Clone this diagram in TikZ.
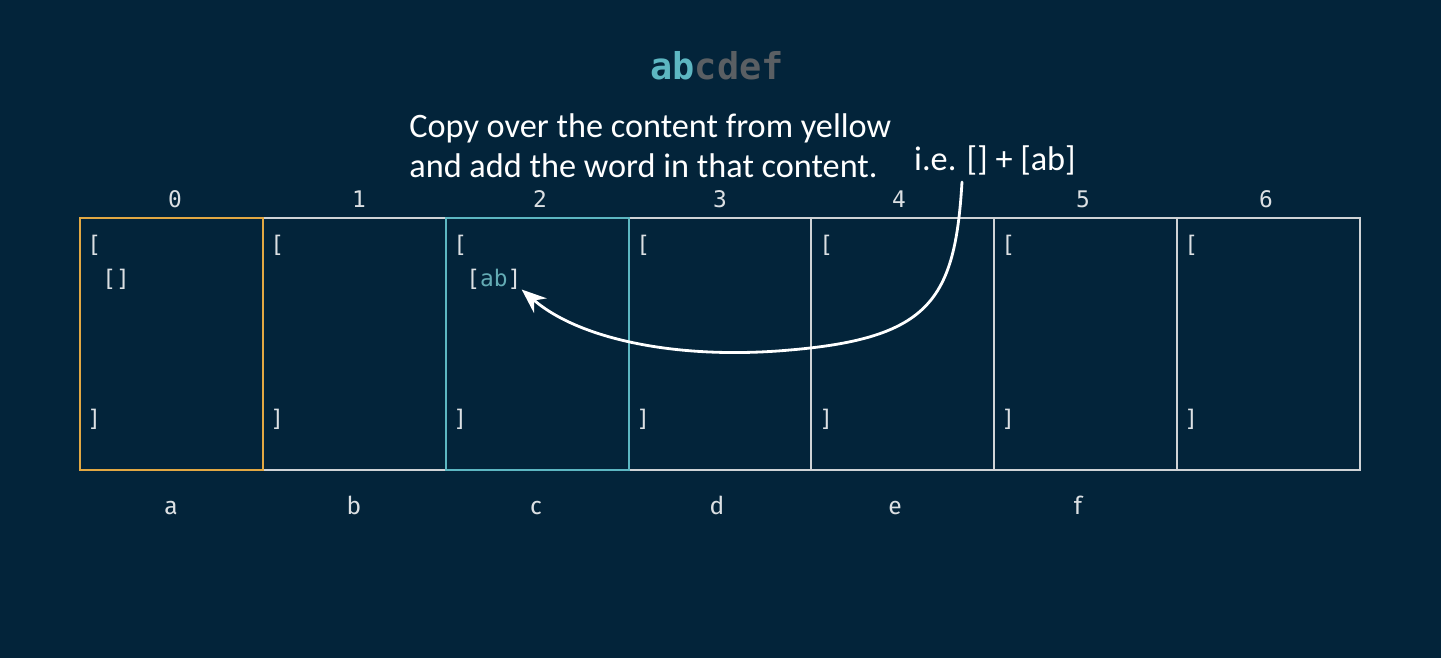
\documentclass[tikz,border=0pt]{standalone}
\usepackage{fontspec}
\setmainfont{Carlito}
\newfontfamily\cellfont{DejaVu Sans Mono}
\newfontfamily\letterfont{Fira Sans}
\usetikzlibrary{arrows.meta}

\definecolor{board}{HTML}{03243A}
\definecolor{gold}{HTML}{E2A843}
\definecolor{aqua}{HTML}{5DB7C2}
\definecolor{edge}{HTML}{CFD3D6}
\definecolor{dim}{HTML}{5A5F63}
\definecolor{ink}{HTML}{DCE0E3}

\begin{document}
\begin{tikzpicture}[
	x=0.02cm, y=-0.02cm,
	cell/.style={
		draw=edge, line width=1.1pt, rectangle,
		minimum width=3.66cm, minimum height=5.04cm, inner sep=0pt
	},
	idx/.style={font=\cellfont\fontsize{13}{15}\selectfont, text=ink},
	chr/.style={anchor=base, font=\letterfont\fontsize{14}{16}\selectfont, text=ink},
	br/.style={anchor=west, inner sep=0pt, font=\cellfont\fontsize{13}{15}\selectfont, text=ink},
	note/.style={text=white, inner sep=0pt, font=\fontsize{19.5}{22.7}\selectfont},
	]

	% background and frame
	\fill[board] (0,0) rectangle (1441,658);
	\useasboundingbox (0,0) rectangle (1441,658);

	\node[font=\cellfont\bfseries\fontsize{21}{24}\selectfont] (word) at (717,66)
		{\textcolor{aqua}{ab}\textcolor{dim}{cdef}};

	\node[note, anchor=west, align=left] (hint) at (409,146)
		{Copy over the content from yellow\\and add the word in that content.};
	\node[note] (ie) at (995,160) {i.e. [] + [ab]};

	% the dp cells
	\node[cell] (c1) at (354.3,344) {};
	\node[cell] (c3) at (720.0,344) {};
	\node[cell] (c4) at (902.9,344) {};
	\node[cell] (c5) at (1085.7,344) {};
	\node[cell] (c6) at (1268.6,344) {};
	\node[cell, draw=gold] (c0) at (171.4,344) {};
	\node[cell, draw=aqua] (c2) at (537.1,344) {};

	% indices above
	\node[idx] (i0) at (175,199) {0};
	\node[idx] (i1) at (359,199) {1};
	\node[idx] (i2) at (540,199) {2};
	\node[idx] (i3) at (720,199) {3};
	\node[idx] (i4) at (899,199) {4};
	\node[idx] (i5) at (1083,199) {5};
	\node[idx] (i6) at (1266,199) {6};

	% letters below
	\node[chr] (l0) at (171,515) {a};
	\node[chr] (l1) at (354,515) {b};
	\node[chr] (l2) at (536,515) {c};
	\node[chr] (l3) at (717,515) {d};
	\node[chr] (l4) at (895,515) {e};
	\node[chr] (l5) at (1078,515) {f};

	% list brackets in each cell
	\node[br] (o0) at (87,245) {[};    \node[br] (e0) at (87,419) {]};
	\node[br] (o1) at (270,245) {[};   \node[br] (e1) at (270,419) {]};
	\node[br] (o2) at (453,245) {[};   \node[br] (e2) at (453,419) {]};
	\node[br] (o3) at (636,245) {[};   \node[br] (e3) at (636,419) {]};
	\node[br] (o4) at (819,245) {[};   \node[br] (e4) at (819,419) {]};
	\node[br] (o5) at (1001,245) {[};  \node[br] (e5) at (1001,419) {]};
	\node[br] (o6) at (1184,245) {[};  \node[br] (e6) at (1184,419) {]};

	\node[br] (empty) at (102,279) {[]};
	\node[br] (ab) at (466,279) {[\textcolor{aqua!80!gray}{ab}]};

	% hand drawn pointer
	\coordinate (tail) at (962,182);
	\draw[white, line width=1.6pt, line cap=round, -{Stealth[length=14pt, width=11pt]}]
		(tail) .. controls (955,300) and (930,338) .. (790,350)
		.. controls (680,360) and (580,340) .. (ab.south east);

\end{tikzpicture}
\end{document}
